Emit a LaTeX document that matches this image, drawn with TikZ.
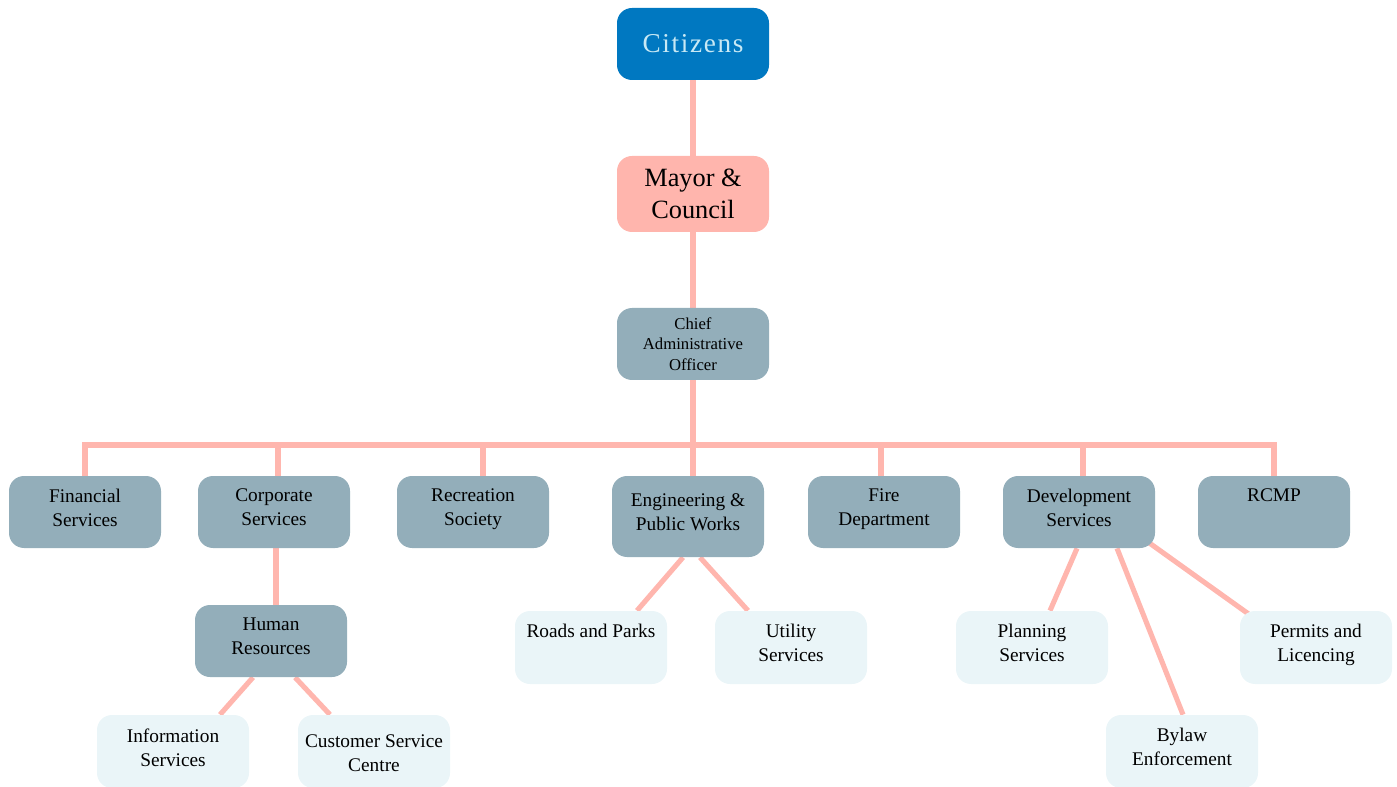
\documentclass[tikz,border=0pt]{standalone}
\usepackage{fontspec}
\setmainfont{Liberation Serif}
\usetikzlibrary{backgrounds}
\definecolor{citizenblue}{HTML}{0078C1}
\definecolor{citizentext}{HTML}{C8E9F5}
\definecolor{councilpink}{HTML}{FFB5AD}
\definecolor{unitgray}{HTML}{93AEBA}
\definecolor{leafblue}{HTML}{EAF5F8}
\definecolor{linkpink}{HTML}{FFB6AE}
\newcommand{\toptext}[1]{\parbox[c][0.92cm][t]{3cm}{\centering #1}}
\begin{document}
\begin{tikzpicture}[
    box/.style={rounded corners=0.3cm, inner sep=0pt, minimum width=3.04cm, minimum height=1.44cm, font=\fontsize{11}{13.6}\selectfont},
    unit/.style={box, fill=unitgray},
    leaf/.style={box, fill=leafblue, minimum height=1.46cm},
    link/.style={draw=linkpink, line width=2.9pt}]
    \useasboundingbox (0,0) rectangle (27.94,-15.74);

    \node[box, fill=citizenblue, text=citizentext, font=\fontsize{15.5}{18}\selectfont\addfontfeatures{LetterSpace=6}] (cit) at (13.86,-0.88) {Citizens};
    \node[box, fill=councilpink, minimum height=1.52cm, align=center, font=\fontsize{15}{18}\selectfont] (mayor) at (13.86,-3.88) {Mayor \&\\Council};
    \node[unit, align=center, font=\fontsize{9.5}{11.6}\selectfont] (cao) at (13.86,-6.88) {Chief\\Administrative\\Officer};

    \node[unit] (fin) at (1.70,-10.24) {\toptext{Financial\\Services}};
    \node[unit] (corp) at (5.48,-10.24) {\toptext{Corporate\\Services}};
    \node[unit] (rec) at (9.46,-10.24) {\toptext{Recreation\\Society}};
    \node[unit, minimum height=1.62cm] (eng) at (13.76,-10.33) {\toptext{Engineering \&\\Public Works}};
    \node[unit] (fire) at (17.68,-10.24) {\toptext{Fire\\Department}};
    \node[unit] (dev) at (21.58,-10.24) {\toptext{Development\\Services}};
    \node[unit] (rcmp) at (25.48,-10.24) {\toptext{RCMP}};

    \node[unit] (hr) at (5.42,-12.82) {\toptext{Human\\Resources}};
    \node[leaf] (info) at (3.46,-15.03) {\toptext{Information\\Services}};
    \node[leaf] (cust) at (7.48,-15.03) {\toptext{\vspace*{0.12cm}Customer Service\\Centre}};
    \node[leaf] (roads) at (11.82,-12.95) {\toptext{Roads and Parks}};
    \node[leaf] (util) at (15.82,-12.95) {\toptext{Utility\\Services}};
    \node[leaf] (plan) at (20.64,-12.95) {\toptext{Planning\\Services}};
    \node[leaf] (bylaw) at (23.64,-15.03) {\toptext{Bylaw\\Enforcement}};
    \node[leaf] (perm) at (26.32,-12.95) {\toptext{Permits and\\Licencing}};

    \coordinate (bus) at (0,-8.9);

    \begin{scope}[on background layer]
        \draw[link] (cit) -- (cit |- mayor);
        \draw[link] (mayor) -- (mayor |- cao);
        \draw[link] (cao) -- (cao |- eng.north);
        \draw[link] (fin.north) |- (bus -| rcmp.north) -- (rcmp.north);
        \foreach \n/\s in {corp/0.08, rec/0.2, fire/-0.06, dev/0.08}
            \draw[link] ([xshift=\s cm]\n.north) -- ([xshift=\s cm]\n.north |- bus);
        \draw[link] ([xshift=0.04cm]corp.south) -- ([xshift=0.04cm]corp.south |- hr.north);
        \draw[link] ([xshift=-0.36cm]hr.south) -- ([xshift=0.94cm]info.north);
        \draw[link] ([xshift=0.48cm]hr.south) -- ([xshift=-0.88cm]cust.north);
        \draw[link] ([xshift=-0.1cm]eng.south) -- ([xshift=0.92cm]roads.north);
        \draw[link] ([xshift=0.24cm]eng.south) -- ([xshift=-0.86cm]util.north);
        \draw[link] ([xshift=-0.04cm]dev.south) -- ([xshift=0.36cm]plan.north);
        \draw[link] ([xshift=0.76cm]dev.south) -- ([xshift=0.02cm]bylaw.north);
        \draw[link] ([shift={(1.38,-0.6)}]dev.center) -- ([shift={(-1.32,0.65)}]perm.center);
    \end{scope}
\end{tikzpicture}
\end{document}
